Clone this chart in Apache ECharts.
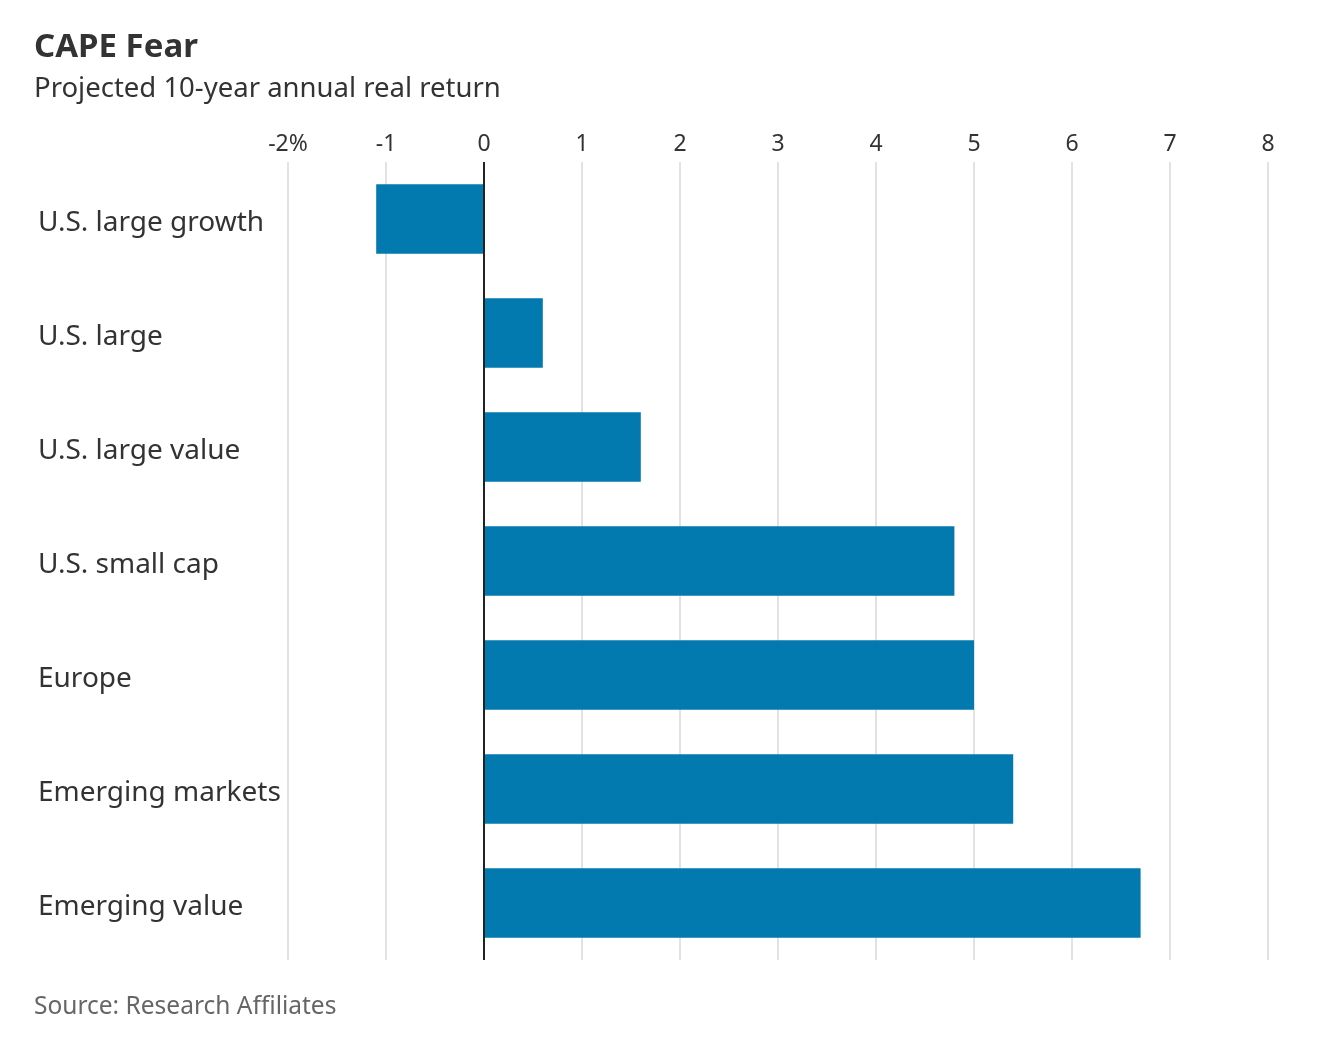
<!DOCTYPE html>
<html>
<head>
<meta charset="utf-8">
<script src="https://cdn.jsdelivr.net/npm/echarts@6/dist/echarts.min.js"></script>
<style>
html,body{margin:0;padding:0;background:#fff;}
#chart{width:1334px;height:1042px;}
</style>
</head>
<body>
<div id="chart"></div>
<script>
const categories = ["U.S. large growth","U.S. large","U.S. large value","U.S. small cap","Europe","Emerging markets","Emerging value"];
const values = [-1.1, 0.6, 1.6, 4.8, 5.0, 5.4, 6.7];
const xTickLabels = {"-2":"-2%"};

const chart = echarts.init(document.getElementById('chart'));
const FONT = '"Noto Sans", sans-serif';
chart.setOption({
  backgroundColor: '#fff',
  animation: false,
  title: [
    {text: 'CAPE Fear', left: 29, top: 26, textStyle: {fontFamily: FONT, fontSize: 33, fontWeight: 'bold', color: '#333'}},
    {text: 'Projected 10-year annual real return', left: 29, top: 70, textStyle: {fontFamily: FONT, fontSize: 27.5, fontWeight: 'normal', color: '#333'}},
    {text: 'Source: Research Affiliates', left: 29, top: 990, textStyle: {fontFamily: FONT, fontSize: 24.5, fontWeight: 'normal', color: '#666'}}
  ],
  grid: {left: 288, right: 66, top: 162, bottom: 82, containLabel: false},
  xAxis: {
    type: 'value', position: 'top', min: -2, max: 8, interval: 1,
    axisLine: {show: false}, axisTick: {show: false},
    axisLabel: {fontFamily: FONT, fontSize: 23, color: '#333', margin: 6,
      formatter: v => xTickLabels[String(v)] !== undefined ? xTickLabels[String(v)] : String(v)},
    splitLine: {show: true, lineStyle: {color: '#e2e2e2', width: 2}}
  },
  yAxis: {
    type: 'category', inverse: true, data: categories,
    axisLine: {show: false}, axisTick: {show: false},
    axisLabel: {fontFamily: FONT, fontSize: 28, color: '#333', align: 'left', margin: 250,
      verticalAlign: 'top', lineHeight: 34, padding: [-13, 0, 0, 0]}
  },
  series: [{
    type: 'bar', data: values, barWidth: '61%',
    itemStyle: {color: '#0279AF'},
    markLine: {
      silent: true, symbol: 'none', label: {show: false},
      lineStyle: {color: '#222', width: 2, type: 'solid'},
      data: [{xAxis: 0}]
    }
  }]
});
</script>
</body>
</html>
